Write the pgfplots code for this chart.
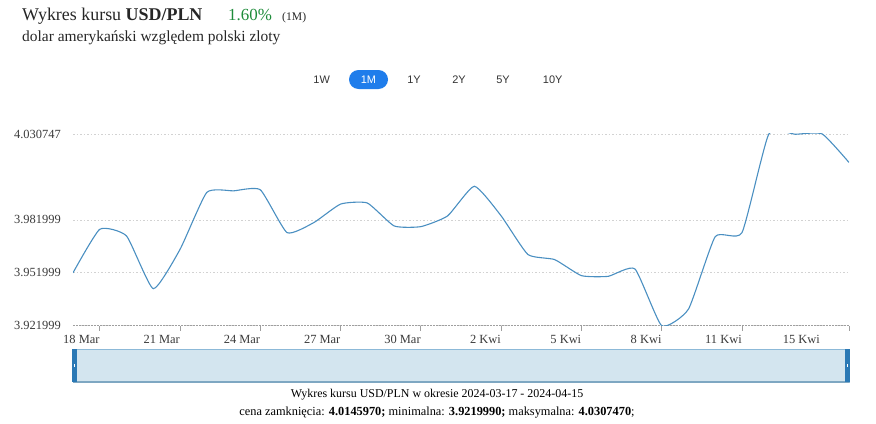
\documentclass[border=0pt]{standalone}
\usepackage{fontspec}
\setmainfont{Liberation Serif}
\newfontfamily\btnfont{Liberation Sans}
\usepackage{pgfplots}
\pgfplotsset{compat=1.18}
\definecolor{lineblue}{HTML}{4A8FC1}
\definecolor{navfill}{HTML}{D3E5EF}
\definecolor{navborder}{HTML}{8CB9D8}
\definecolor{handleblue}{HTML}{2B79B5}
\definecolor{btnblue}{HTML}{1F7DEB}
\definecolor{upgreen}{HTML}{1E8C3A}
\definecolor{ticktext}{HTML}{3A3A3A}

\pgfplotstableread{
day value
0  3.9520
1  3.9767
2  3.9729
3  3.9430
4  3.9653
5  3.9976
6  3.9985
7  3.9991
8  3.9748
9  3.9805
10 3.9910
11 3.9916
12 3.9786
13 3.9782
14 3.9843
15 4.0011
16 3.9843
17 3.9624
18 3.9595
19 3.9504
20 3.9500
21 3.9542
22 3.921999
23 3.9314
24 3.9725
25 3.9748
26 4.0306
27 4.0306
28 4.030747
29 4.014597
}\usdpln

\begin{document}
\begin{tikzpicture}[x=1bp,y=1bp]
\useasboundingbox (0,0) rectangle (876,423);

% header
\node[anchor=base west, inner sep=0, font=\fontsize{18}{20}\selectfont, text=black!85]
  at (22,402.3) {Wykres kursu \textbf{USD/PLN}};
\node[anchor=base west, inner sep=0, font=\fontsize{17}{20}\selectfont, text=upgreen]
  at (228,402.3) {1.60\%};
\node[anchor=base west, inner sep=0, font=\fontsize{11.7}{14}\selectfont, text=black!85]
  at (282,402.3) {(1M)};
\node[anchor=base west, inner sep=0, font=\fontsize{15.5}{18}\selectfont, text=black!85]
  at (22,381.3) {dolar amerykański względem polski zloty};

% range buttons
\fill[btnblue, rounded corners=9.5bp] (349,334) rectangle (388,353);
\foreach \xx/\lab in {321.7/1W, 414/1Y, 459/2Y, 503/5Y, 552.7/10Y}
  \node[anchor=base, inner sep=0, font=\btnfont\fontsize{11}{13}\selectfont, text=black!80] at (\xx,339.6) {\lab};
\node[anchor=base, inner sep=0, font=\btnfont\fontsize{11}{13}\selectfont, text=white] at (368.5,339.6) {1M};

\begin{axis}[
  at={(73bp,97.3bp)}, anchor=south west,
  scale only axis, width=776bp, height=191.7bp,
  xmin=0, xmax=29, ymin=3.921999, ymax=4.030747,
  enlargelimits=false,
  axis lines*=left,
  y axis line style={draw=none},
  x axis line style={draw=gray!75, line width=1.2bp, dash pattern=on 2bp off 1bp},
  tick align=outside,
  major tick length=5bp,
  xtick={1,4,7,10,13,16,19,22,25},
  xticklabels={18 Mar,21 Mar,24 Mar,27 Mar,30 Mar,2 Kwi,5 Kwi,8 Kwi,11 Kwi},
  extra x ticks={29},
  extra x tick labels={15 Kwi},
  extra x tick style={tick label style={xshift=-29bp}},
  xtick style={draw=gray!75, line width=0.8bp},
  xticklabel style={anchor=north east, inner sep=0, yshift=-4bp},
  ytick={3.921999,3.951999,3.981999,4.030747},
  yticklabels={3.921999,3.951999,3.981999,4.030747},
  ytick style={draw=none},
  yticklabel style={anchor=east, inner sep=0, xshift=-7bp},
  tick label style={font=\fontsize{12.5}{14}\selectfont, text=ticktext},
  ymajorgrids,
  grid style={draw=gray!35, line width=0.8bp, dash pattern=on 1.5bp off 2bp},
]
\addplot[lineblue, line width=1.1bp, smooth, tension=0.3] table[x=day, y=value] {\usdpln};
\end{axis}

% navigator
\fill[navfill] (73,41) rectangle (849,74);
\draw[navborder, line width=0.8bp] (73,41) rectangle (849,74);
\draw[navborder!90!black, line width=1.2bp] (73,41) -- (849,41);
\fill[handleblue] (72,41) rectangle (77,74);
\fill[handleblue] (845,41) rectangle (850,74);
\fill[white] (73.8,56) rectangle (75.2,59);
\fill[white] (846.8,56) rectangle (848.2,59);

% footer
\node[anchor=base, inner sep=0, font=\fontsize{12}{14}\selectfont] at (437,26)
  {Wykres kursu USD/PLN w okresie 2024-03-17 - 2024-04-15};
\node[anchor=base, inner sep=0, font=\fontsize{12.4}{14}\selectfont] at (437,7.3)
  {cena zamknięcia: \textbf{4.0145970;} minimalna: \textbf{3.9219990;} maksymalna: \textbf{4.0307470};};
\end{tikzpicture}
\end{document}
